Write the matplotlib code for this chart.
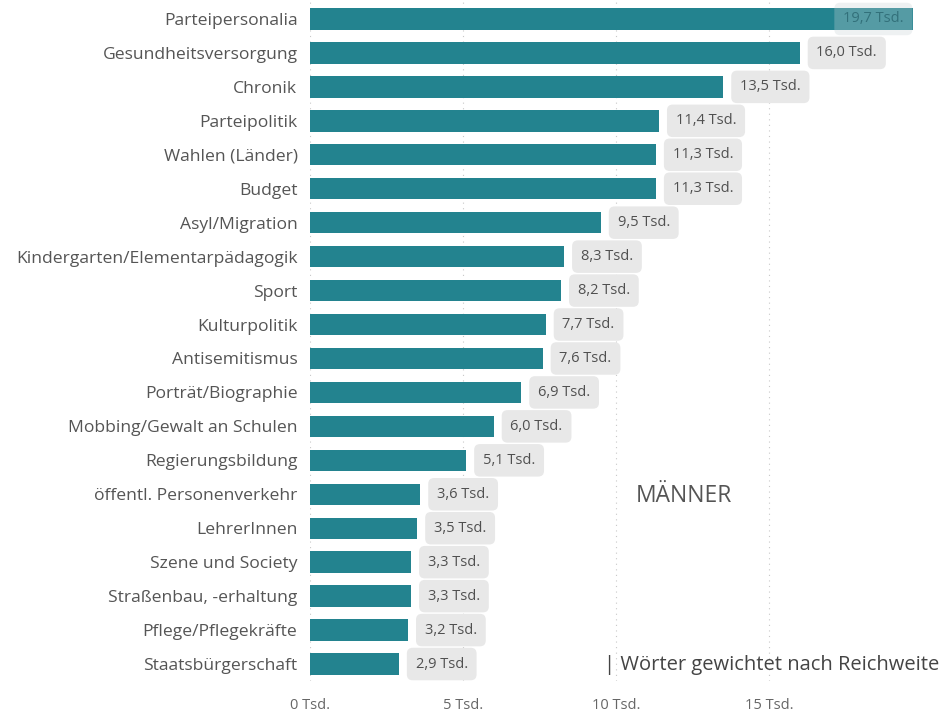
import matplotlib
matplotlib.use("Agg")
import matplotlib.pyplot as plt
from matplotlib.ticker import FixedLocator

categories = ["Parteipersonalia", "Gesundheitsversorgung", "Chronik", "Parteipolitik",
              "Wahlen (Länder)", "Budget", "Asyl/Migration",
              "Kindergarten/Elementarpädagogik", "Sport", "Kulturpolitik", "Antisemitismus",
              "Porträt/Biographie", "Mobbing/Gewalt an Schulen", "Regierungsbildung",
              "öffentl. Personenverkehr", "LehrerInnen", "Szene und Society",
              "Straßenbau, -erhaltung", "Pflege/Pflegekräfte", "Staatsbürgerschaft"]
values = [19.7, 16.0, 13.5, 11.4, 11.3, 11.3, 9.5, 8.3, 8.2, 7.7, 7.6, 6.9, 6.0, 5.1,
          3.6, 3.5, 3.3, 3.3, 3.2, 2.9]
xticks = [0, 5, 10, 15]
xtick_labels = ["0 Tsd.", "5 Tsd.", "10 Tsd.", "15 Tsd."]

FONT = ["Open Sans", "DejaVu Sans"]
plt.rcParams["font.family"] = FONT

W, H = 944, 715
fig = plt.figure(figsize=(W / 100, H / 100), dpi=100)
ax = fig.add_axes([310 / W, 1 - 681 / H, 609 / W, 679 / H])

bar_color = "#23838f"
ypos = list(range(len(categories)))
ax.barh(ypos, values, height=0.63, color=bar_color, zorder=2)
ax.set_ylim(len(categories) - 0.5, -0.5)
xmax = 19.9
ax.set_xlim(0, xmax)

for x in xticks:
    ax.axvline(x, color="#c8c8c8", lw=0.8, ls=(0, (1, 4)), zorder=1)

for y, v in zip(ypos, values):
    lab = f"{v:.1f}".replace(".", ",") + " Tsd."
    if v + 3.0 > xmax:
        ax.text(v - 0.3, y, lab, ha="right", va="center", fontsize=10.5,
                color="#2a6670", alpha=0.8, zorder=4,
                bbox=dict(boxstyle="round,pad=0.6,rounding_size=0.4",
                          fc="#c9d3d5", ec="none", alpha=0.3))
    else:
        ax.text(v + 0.55, y, lab, ha="left", va="center", fontsize=10.5,
                color="#505050", zorder=4,
                bbox=dict(boxstyle="round,pad=0.6,rounding_size=0.4",
                          fc="#e8e8e8", ec="none"))

ax.set_yticks(ypos)
ax.set_yticklabels(categories, fontsize=12.6, color="#555555")
ax.xaxis.set_major_locator(FixedLocator(xticks))
ax.set_xticklabels(xtick_labels, fontsize=10.5, color="#666666")
ax.tick_params(axis="both", length=0)
ax.tick_params(axis="y", pad=9)
ax.tick_params(axis="x", pad=12)
for s in ax.spines.values():
    s.set_visible(False)

fig.text(636 / W, 1 - 496 / H, "MÄNNER", fontsize=16.5, color="#555555",
         ha="left", va="center")
fig.text(604 / W, 1 - 665 / H, "| Wörter gewichtet nach Reichweite", fontsize=14.5,
         color="#444444", ha="left", va="center")

fig.savefig("out.png", dpi=100)
